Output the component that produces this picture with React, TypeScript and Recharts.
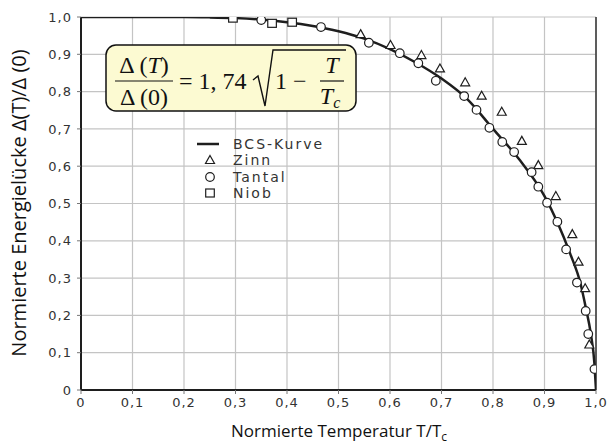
import React from "react";
import {
  ComposedChart,
  Line,
  Scatter,
  XAxis,
  YAxis,
  CartesianGrid,
  ReferenceLine,
} from "recharts";

// axis ticks (T/Tc and gap ratio share the same 0..1 steps)
const axisTicks = [0, 0.1, 0.2, 0.3, 0.4, 0.5, 0.6, 0.7, 0.8, 0.9, 1.0];

// BCS curve
const bcsT = [0, 0.1, 0.2, 0.25, 0.3, 0.35, 0.4, 0.45, 0.5, 0.55, 0.6, 0.65, 0.7, 0.75, 0.8, 0.85, 0.9, 0.925, 0.95, 0.97, 0.98, 0.99, 0.997, 1.0];
const bcsGap = [1.0, 1.0, 1.0, 0.999, 0.997, 0.993, 0.986, 0.976, 0.962, 0.942, 0.914, 0.878, 0.835, 0.78, 0.7, 0.62, 0.52, 0.45, 0.365, 0.285, 0.222, 0.15, 0.07, 0];

// measured points
const zinnT = [0.543, 0.601, 0.661, 0.697, 0.746, 0.778, 0.817, 0.856, 0.888, 0.922, 0.954, 0.966, 0.979, 0.987];
const zinnGap = [0.954, 0.925, 0.898, 0.862, 0.825, 0.789, 0.746, 0.668, 0.603, 0.52, 0.418, 0.344, 0.273, 0.122];

const tantalT = [0.35, 0.466, 0.559, 0.619, 0.655, 0.689, 0.744, 0.768, 0.793, 0.818, 0.841, 0.875, 0.888, 0.905, 0.925, 0.942, 0.963, 0.98, 0.985, 0.997];
const tantalGap = [0.992, 0.973, 0.931, 0.903, 0.876, 0.829, 0.788, 0.751, 0.703, 0.665, 0.638, 0.584, 0.545, 0.502, 0.451, 0.377, 0.288, 0.212, 0.15, 0.056];

const niobT = [0.295, 0.371, 0.41];
const niobGap = [0.997, 0.983, 0.986];

const legendLabels = ["BCS-Kurve", "Zinn", "Tantal", "Niob"];

const toPoints = (xs: number[], ys: number[]) => xs.map((x, i) => ({ x, y: ys[i] }));

const bcsData = toPoints(bcsT, bcsGap);
const zinnData = toPoints(zinnT, zinnGap);
const tantalData = toPoints(tantalT, tantalGap);
const niobData = toPoints(niobT, niobGap);

const ink = "#1e1e1e";
const tickFont = { fontFamily: "DejaVu Sans", fontSize: 13, fill: "#333", letterSpacing: 1 };
const fmt = (v: number) => (v === 0 ? "0" : v.toFixed(1).replace(".", ","));

const Triangle = (p: any) => (
  <path
    d={`M${p.cx},${p.cy - 4.5} L${p.cx + 4.5},${p.cy + 3.5} L${p.cx - 4.5},${p.cy + 3.5} Z`}
    fill="#fff"
    stroke={ink}
    strokeWidth={1.2}
  />
);
const Circle = (p: any) => (
  <circle cx={p.cx} cy={p.cy} r={4.3} fill="#fff" stroke={ink} strokeWidth={1.2} />
);
const Square = (p: any) => (
  <rect x={p.cx - 4.3} y={p.cy - 4} width={8.6} height={8} fill="#fff" stroke={ink} strokeWidth={1.2} />
);

function Overlay() {
  const serif = "Liberation Serif";
  const lx = 210;
  const rows = [144, 160, 177, 193];
  return (
    <svg
      width={613}
      height={445}
      style={{ position: "absolute", left: 0, top: 0, pointerEvents: "none" }}
    >
      {/* formula box */}
      <rect x={106} y={45} width={250} height={66} rx={10} fill="#fcfad2" stroke="#111" strokeWidth={1.5} />
      <g fontFamily={serif} fontSize={24} fill="#111">
        <text x={144} y={73} textAnchor="middle">
          Δ (<tspan fontStyle="italic">T</tspan>)
        </text>
        <line x1={115} x2={173} y1={81} y2={81} stroke="#111" strokeWidth={1.2} />
        <text x={144} y={105} textAnchor="middle">Δ (0)</text>
        <text x={179} y={89}>= 1, 74</text>
        <path d="M253,80 L258,76 L265,106 L273,50 L346,50" fill="none" stroke="#111" strokeWidth={1.4} />
        <text x={275} y={89}>1 −</text>
        <text x={332} y={73} textAnchor="middle" fontStyle="italic">T</text>
        <line x1={320} x2={344} y1={81} y2={81} stroke="#111" strokeWidth={1.2} />
        <text x={330} y={104} textAnchor="middle" fontStyle="italic">
          T<tspan fontSize={16} dy={4}>c</tspan>
        </text>
      </g>

      {/* legend */}
      <g fontFamily="DejaVu Sans" fontSize={14} fill="#333" letterSpacing={2}>
        <line x1={lx - 13} x2={lx + 9} y1={rows[0]} y2={rows[0]} stroke={ink} strokeWidth={2.5} />
        <Triangle cx={lx} cy={rows[1]} />
        <Circle cx={lx} cy={rows[2]} />
        <Square cx={lx} cy={rows[3]} />
        {legendLabels.map((t, i) => (
          <text key={t} x={233} y={rows[i] + 5}>
            {t}
          </text>
        ))}
      </g>

      {/* axis titles */}
      <text x={339} y={437} textAnchor="middle" fontFamily="Open Sans" fontSize={17} fill="#111">
        Normierte Temperatur T/T<tspan fontSize={12} dy={4}>c</tspan>
      </text>
      <text
        transform="translate(26,203) rotate(-90)"
        textAnchor="middle"
        fontFamily="Open Sans"
        fontSize={20}
        fill="#111"
      >
        Normierte Energielücke Δ(T)/Δ (0)
      </text>
    </svg>
  );
}

export default function App() {
  return (
    <div style={{ position: "absolute", left: 0, top: 0, width: 613, height: 445, background: "#fff" }}>
      <ComposedChart width={613} height={445} margin={{ top: 17, right: 17, bottom: 0, left: 0 }}>
        <CartesianGrid stroke="#c4c4c4" strokeWidth={1.2} />
        <XAxis
          type="number"
          dataKey="x"
          domain={[0, 1]}
          ticks={axisTicks}
          tickFormatter={fmt}
          height={55}
          tick={tickFont}
          tickSize={4}
          tickMargin={4}
          axisLine={{ stroke: ink, strokeWidth: 2 }}
          tickLine={{ stroke: "#777" }}
          allowDataOverflow
        />
        <YAxis
          type="number"
          dataKey="y"
          domain={[0, 1]}
          ticks={axisTicks}
          tickFormatter={fmt}
          width={81}
          tick={tickFont}
          tickSize={4}
          tickMargin={5}
          axisLine={{ stroke: ink, strokeWidth: 2 }}
          tickLine={{ stroke: "#777" }}
          allowDataOverflow
        />
        <ReferenceLine x={1} stroke="#333" strokeWidth={1.5} />
        <Line
          data={bcsData}
          dataKey="y"
          type="monotone"
          stroke={ink}
          strokeWidth={2.5}
          dot={false}
          isAnimationActive={false}
        />
        <Scatter data={zinnData} dataKey="y" shape={Triangle} isAnimationActive={false} />
        <Scatter data={tantalData} dataKey="y" shape={Circle} isAnimationActive={false} />
        <Scatter data={niobData} dataKey="y" shape={Square} isAnimationActive={false} />
      </ComposedChart>
      <Overlay />
    </div>
  );
}
